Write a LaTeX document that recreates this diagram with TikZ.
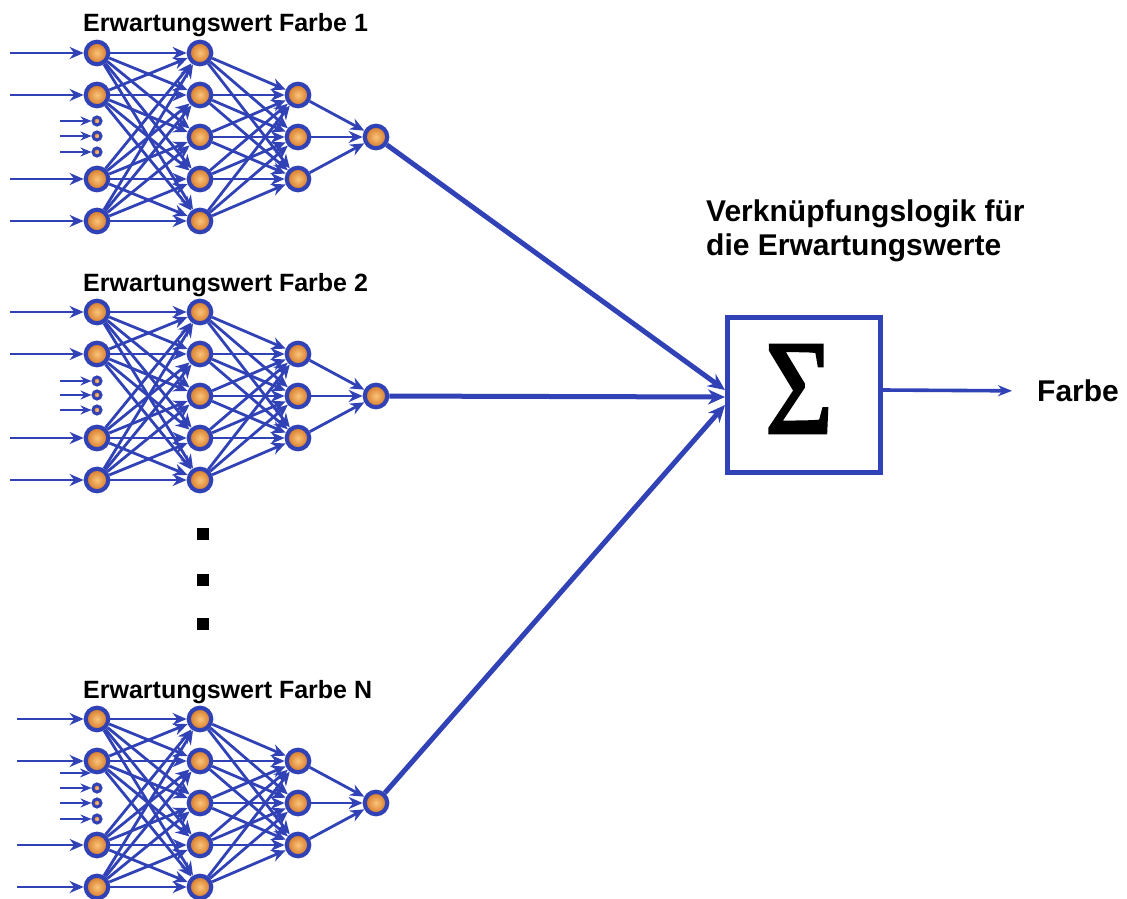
\documentclass[tikz,border=0pt]{standalone}
\usepackage{fontspec}
\setmainfont{Liberation Sans}
\newfontfamily\sigmafont[FakeBold=2]{Liberation Serif}
\usepackage{graphicx}
\usetikzlibrary{arrows.meta}

\definecolor{netblue}{RGB}{48,66,182}
\definecolor{ballin}{RGB}{250,196,122}
\definecolor{ballout}{RGB}{212,116,36}

\tikzset{
  neuron/.style={circle, draw=netblue, line width=4.2pt, minimum size=22.5pt,
    inner sep=0pt, inner color=ballin, outer color=ballout},
  minineuron/.style={circle, draw=netblue, line width=3pt, minimum size=8pt,
    inner sep=0pt, inner color=ballin, outer color=ballout},
  link/.style={draw=netblue, line width=2.8pt, -{Stealth[length=14pt,width=12pt]}},
  feed/.style={link},
  minifeed/.style={draw=netblue, line width=2.4pt, -{Stealth[length=11pt,width=9pt]}},
  trunk/.style={draw=netblue, line width=5pt, -{Stealth[length=17pt,width=15pt]}},
  outarrow/.style={draw=netblue, line width=3.6pt, -{Stealth[length=14pt,width=11pt]}},
  nettitle/.style={font=\fontsize{25}{30}\selectfont\bfseries, anchor=base west, inner sep=0pt},
  bigtext/.style={font=\fontsize{30}{34}\selectfont\bfseries, inner sep=0pt},
  dotsq/.style={fill=black, minimum size=12pt, inner sep=0pt},
  sumbox/.style={draw=netblue, line width=5pt, minimum width=153pt,
    minimum height=155pt, inner sep=0pt},
}

% One small feed-forward net: #1 name, #2 centre y, #3 x where the inputs
% start, #4 title, #5 vertical offsets of the small extra inputs
\newcommand\drawnet[5]{%
  \node[nettitle] (#1-t) at (83,{#2-105}) {#4};
  \foreach \k/\o in {1/-2,2/-1,3/1,4/2}{
    \node[neuron] (#1-i\k) at (97,{#2+(\o)*42}) {};
    \coordinate (#1-s\k) at (#3,{#2+(\o)*42});
    \draw[feed] (#1-s\k) -- (#1-i\k);
  }
  \foreach \k in {1,...,5}{\node[neuron] (#1-h\k) at (200,{#2+(\k-3)*42}) {};}
  \foreach \k in {1,2,3}{\node[neuron] (#1-g\k) at (298,{#2+(\k-2)*42}) {};}
  \node[neuron] (#1-o) at (376,#2) {};
  \foreach \a in {1,...,4}{\foreach \b in {1,...,5}{\draw[link] (#1-i\a) -- (#1-h\b);}}
  \foreach \a in {1,...,5}{\foreach \b in {1,2,3}{\draw[link] (#1-h\a) -- (#1-g\b);}}
  \foreach \a in {1,2,3}{\draw[link] (#1-g\a) -- (#1-o);}
  \foreach \o [count=\k] in {#5}{
    \node[minineuron] (#1-m\k) at (97,{#2+(\o)}) {};
    \coordinate (#1-r\k) at (60,{#2+(\o)});
    \draw[minifeed] (#1-r\k) -- (#1-m\k);
  }
}

\begin{document}
\begin{tikzpicture}[x=1pt,y=-1pt]
  \useasboundingbox (0,0) rectangle (1127,899);
  \fill[white] (0,0) rectangle (1127,899);

  \drawnet{a}{137}{10}{Erwartungswert Farbe 1}{-16,-1,15}
  \drawnet{b}{396}{10}{Erwartungswert Farbe 2}{-15,-1,14}
  \drawnet{c}{803}{17}{Erwartungswert Farbe N}{-15,0,16}
  % extra input of the last net without its own small neuron
  \coordinate (c-rx) at (60,773);
  \coordinate (c-ex) at (91,773);
  \draw[minifeed] (c-rx) -- (c-ex);

  % vertical ellipsis between the nets
  \node[dotsq] (d1) at (203,534) {};
  \node[dotsq] (d2) at (203,580) {};
  \node[dotsq] (d3) at (203,624) {};

  % combining block
  \node[sumbox] (sig) at (804,395) {};
  \node[inner sep=0pt] (sym) at (799,389) {\resizebox{68pt}{88pt}{\sigmafont Σ}};
  \node[bigtext, anchor=north west, align=left] (logic) at (706,200)
    {Verknüpfungslogik für\\die Erwartungswerte};

  \draw[trunk] (a-o) -- ([yshift=5pt]sig.west);
  \draw[trunk] (b-o) -- ([yshift=-2pt]sig.west);
  \draw[trunk] (c-o) -- ([yshift=-10pt]sig.west);

  \node[bigtext, anchor=west] (out) at (1037,391) {Farbe};
  \draw[outarrow, shorten >=25pt] ([yshift=5pt]sig.east) -- (out.west);
\end{tikzpicture}
\end{document}
